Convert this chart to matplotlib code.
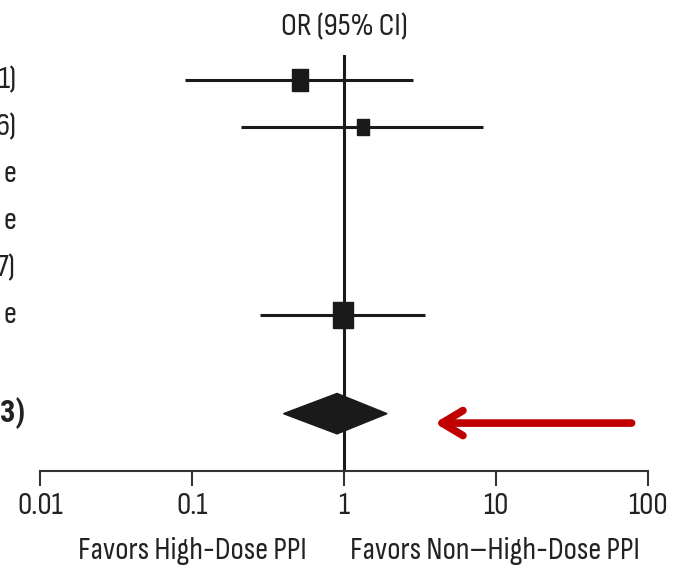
import matplotlib.pyplot as plt
from matplotlib.patches import Polygon

plt.rcParams['font.family'] = ['Sofia Sans Condensed', 'DejaVu Sans']

# study rows (label fragments visible at the cut-off left edge)
labels = ["1)", "6)", "e", "e", "7)", "e"]
rows = [1, 2, 3, 4, 5, 6]
odds = [0.51, 1.33, None, None, None, 0.99]
ci_low = [0.09, 0.21, None, None, None, 0.28]
ci_high = [2.84, 8.2, None, None, None, 3.4]
weights = [23, 16, None, None, None, 27]

# pooled estimate
total_label = "3)"
total_row = 8.1
total_or = 0.90
total_low = 0.40
total_high = 1.92

FS = 23
TXT = "#222222"

fig = plt.figure(figsize=(6.77, 5.73), dpi=100)
ax = fig.add_axes([40 / 677, 1 - 471 / 573, 608 / 677, 416 / 573])
ax.set_xscale("log")
ax.set_xlim(0.01, 100)
ax.set_ylim(9.32, 0.468)

rect = [(-0.36, -0.5), (0.36, -0.5), (0.36, 0.5), (-0.36, 0.5), (-0.36, -0.5)]
for r, o, lo, hi, w in zip(rows, odds, ci_low, ci_high, weights):
    if o is None:
        continue
    ax.plot([lo, hi], [r, r], color="#1a1a1a", lw=2.2, solid_capstyle="butt")
    ax.plot(o, r, marker=rect, markersize=w * 0.72, color="#1a1a1a")

ax.axvline(1, color="#1a1a1a", lw=2.2, zorder=1)

ax.add_patch(Polygon([(total_low, total_row), (total_or, total_row - 0.43),
                      (total_high, total_row), (total_or, total_row + 0.43)],
                     closed=True, color="#1a1a1a", zorder=3))

ax.annotate("", xy=(3.95, 8.3), xytext=(78, 8.3),
            arrowprops=dict(arrowstyle="->,head_length=1.5,head_width=0.9",
                            color="#c00000", lw=5.5, capstyle="round",
                            joinstyle="round", shrinkA=0, shrinkB=0))

for s in ["top", "left", "right"]:
    ax.spines[s].set_visible(False)
ax.spines["bottom"].set_linewidth(1.5)
ax.spines["bottom"].set_color("#333333")
ax.set_yticks([])
ax.set_xticks([0.01, 0.1, 1, 10, 100])
ax.set_xticklabels(["0.01", "0.1", "1", "10", "100"])
ax.xaxis.set_minor_locator(plt.NullLocator())
ax.tick_params(axis="x", direction="out", length=11, width=1.5, color="#333333",
               labelsize=FS, pad=4, labelcolor=TXT)

for r, lab in zip(rows, labels):
    fig.text(16 / 677, 1 - (80 + (r - 1) * 47) / 573, lab, ha="right", va="center",
             fontsize=FS, color=TXT)
fig.text(25 / 677, 1 - 413 / 573, total_label, ha="right", va="center",
         fontsize=FS - 1, color=TXT, fontweight="bold",
         family=["Roboto Condensed", "DejaVu Sans"])

fig.text(344 / 677, 1 - 27 / 573, "OR (95% CI)", ha="center", va="center",
         fontsize=FS, color=TXT)
fig.text(192 / 677, 1 - 551 / 573, "Favors High-Dose PPI", ha="center", va="center",
         fontsize=FS, color=TXT)
fig.text(495 / 677, 1 - 551 / 573, "Favors Non\u2013High-Dose PPI", ha="center",
         va="center", fontsize=FS, color=TXT)

fig.savefig("out.png", dpi=100)
